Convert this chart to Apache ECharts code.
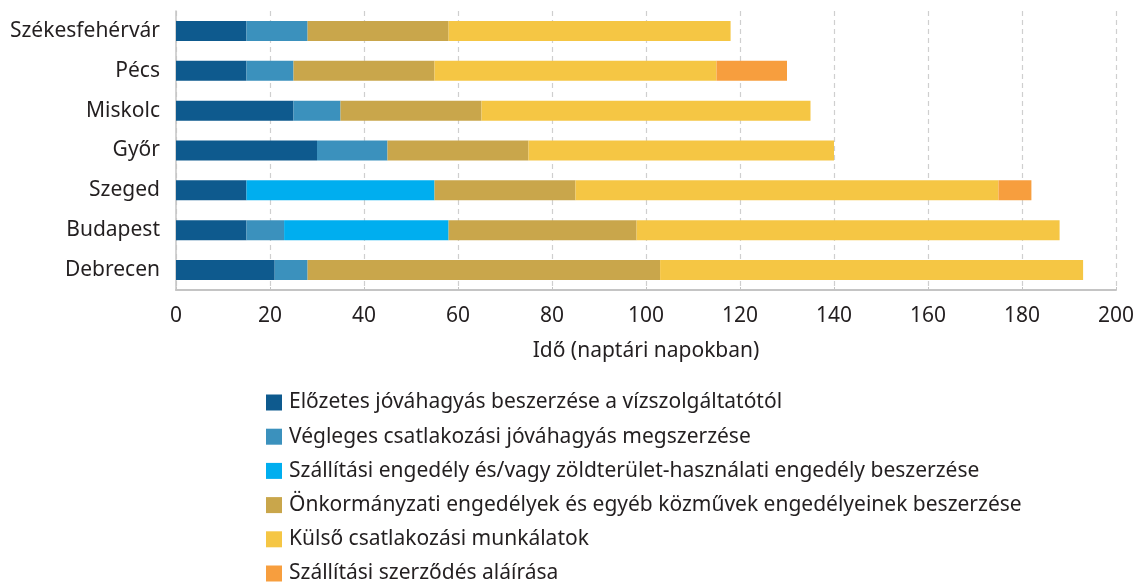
<!DOCTYPE html>
<html>
<head>
<meta charset="utf-8">
<script src="https://cdn.jsdelivr.net/npm/echarts@6/dist/echarts.min.js"></script>
<style>
html,body{margin:0;padding:0;background:#fff;}
#chart{width:1141px;height:583px;}
</style>
</head>
<body>
<div id="chart"></div>
<script>
const cities = ['Székesfehérvár','Pécs','Miskolc','Győr','Szeged','Budapest','Debrecen'];
const seriesNames = [
  'Előzetes jóváhagyás beszerzése a vízszolgáltatótól',
  'Végleges csatlakozási jóváhagyás megszerzése',
  'Szállítási engedély és/vagy zöldterület-használati engedély beszerzése',
  'Önkormányzati engedélyek és egyéb közművek engedélyeinek beszerzése',
  'Külső csatlakozási munkálatok',
  'Szállítási szerződés aláírása'
];
const preApproval   = [15, 15, 25, 30, 15, 15, 21];
const finalApproval = [13, 10, 10, 15, 0, 8, 7];
const transportPermit = [0, 0, 0, 0, 40, 35, 0];
const municipalPermits = [30, 30, 30, 30, 30, 40, 75];
const externalWorks = [60, 60, 70, 65, 90, 90, 90];
const contractSigning = [0, 15, 0, 0, 7, 0, 0];
const xTicks = [0, 20, 40, 60, 80, 100, 120, 140, 160, 180, 200];

const colors = ['#0E5A8E', '#3B91BD', '#00AEEF', '#C9A64B', '#F5C644', '#F79E3E'];
const values = [preApproval, finalApproval, transportPermit, municipalPermits, externalWorks, contractSigning];
const FONT = 'Noto Sans';
const TXT = '#231F20';

const chart = echarts.init(document.getElementById('chart'));
chart.setOption({
  animation: false,
  backgroundColor: '#fff',
  textStyle: { fontFamily: FONT, color: TXT },
  grid: { left: 176, right: 25, top: 11, height: 279 },
  xAxis: {
    type: 'value',
    min: xTicks[0],
    max: xTicks[xTicks.length - 1],
    interval: xTicks[1] - xTicks[0],
    name: 'Idő (naptári napokban)',
    nameLocation: 'middle',
    nameGap: 51,
    nameTextStyle: { fontFamily: FONT, fontSize: 21, color: TXT },
    axisLine: { show: true, lineStyle: { color: '#c4c4c4', width: 2 } },
    axisTick: { show: true, inside: true, length: 3, lineStyle: { color: '#c4c4c4' } },
    axisLabel: { fontFamily: FONT, fontSize: 21, color: TXT, margin: 16 },
    splitLine: { show: true, lineStyle: { color: '#cfcfcf', type: [5, 4], width: 1.2 } }
  },
  yAxis: {
    type: 'category',
    data: cities,
    inverse: true,
    axisLine: { show: true, lineStyle: { color: '#c4c4c4', width: 1.5 } },
    axisTick: { show: false },
    axisLabel: { fontFamily: FONT, fontSize: 21, color: TXT, margin: 16 }
  },
  legend: {
    orient: 'vertical',
    left: 266,
    top: 392,
    height: 200,
    padding: 0,
    itemWidth: 16,
    itemHeight: 16,
    itemGap: 13.2,
    icon: 'rect',
    textStyle: { fontFamily: FONT, fontSize: 21, color: TXT, lineHeight: 20, padding: [0, 0, 0, 2] },
    data: seriesNames
  },
  series: seriesNames.map((n, i) => ({
    name: n,
    type: 'bar',
    stack: 'total',
    barWidth: 20,
    itemStyle: { color: colors[i] },
    data: values[i]
  }))
});
</script>
</body>
</html>
